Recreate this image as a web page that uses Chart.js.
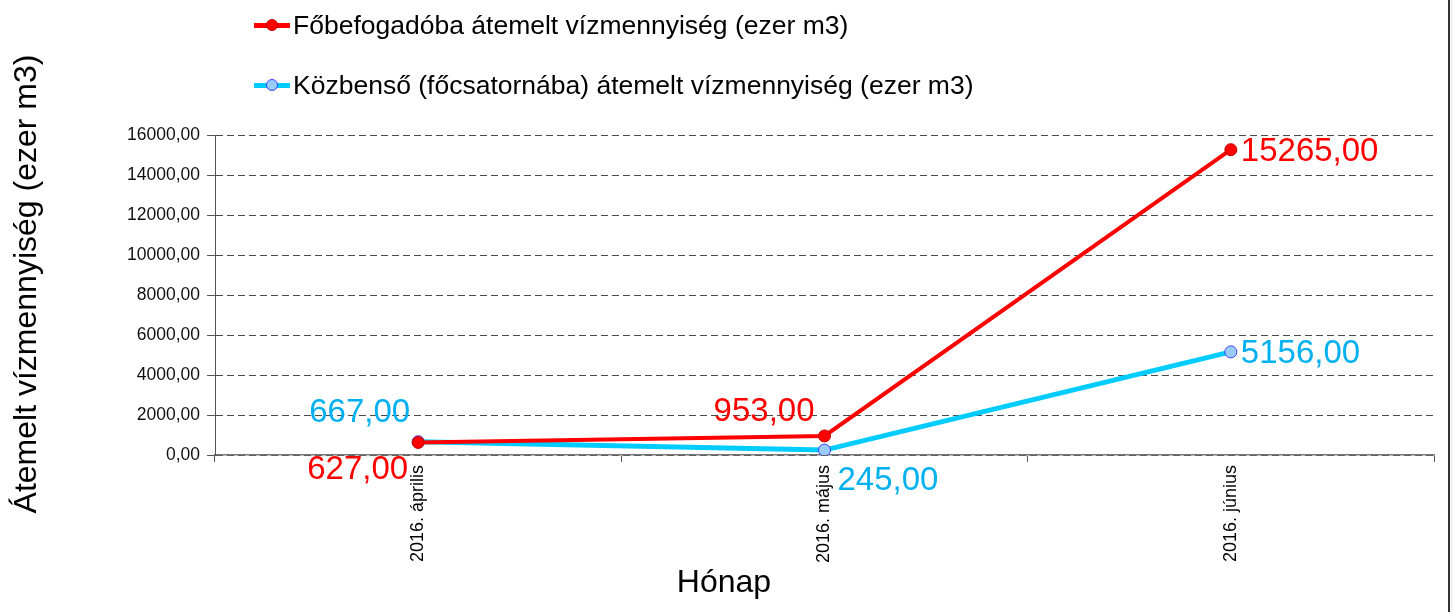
<!DOCTYPE html>
<html>
<head>
<meta charset="utf-8">
<script src="https://cdn.jsdelivr.net/npm/chart.js@4"></script>
<style>
  html, body { margin: 0; padding: 0; background: #f4f4f4; }
  #wrap { position: relative; width: 1448px; height: 612px; background: #fff; border-right: 2px solid #333; }
  #legend { position: absolute; left: 254px; top: 8px; font-family: "Liberation Sans", Arial, sans-serif; font-size: 26.5px; color: #000; }
  .item { height: 34px; line-height: 34px; display: flex; align-items: center; margin-bottom: 26px; }
  .sym { position: relative; width: 36px; height: 34px; margin-right: 3px; }
  .sym .ln { position: absolute; left: 0; right: 0; top: 15px; height: 5px; }
  .sym .dot { position: absolute; left: 12px; top: 11px; width: 10px; height: 10px; border-radius: 50%; }
</style>
</head>
<body>
<div id="wrap">
  <canvas id="chart-grafico-1" width="1448" height="612"></canvas>
  <div id="legend"></div>
</div>
<script>
const honapok = ['2016. április', '2016. május', '2016. június'];
const fobefogadoba = [627, 953, 15265];
const kozbenso = [667, 245, 5156];
const nevek = ['Főbefogadóba átemelt vízmennyiség (ezer m3)', 'Közbenső (főcsatornába) átemelt vízmennyiség (ezer m3)'];
const yTicks = [0, 2000, 4000, 6000, 8000, 10000, 12000, 14000, 16000];
const yCim = 'Átemelt vízmennyiség (ezer m3)';
const xCim = 'Hónap';

const betu = '"Liberation Sans", Arial, sans-serif';
const szam = (v) => v.toFixed(2).replace('.', ',');

// ertek cimkek a pontok mellett
const ertekCimkek = {
  id: 'ertekCimkek',
  afterDatasetsDraw(chart, args, opts) {
    const ctx = chart.ctx;
    ctx.save();
    ctx.font = '33px ' + betu;
    ctx.textBaseline = 'middle';
    chart.data.datasets.forEach((ds, i) => {
      const meta = chart.getDatasetMeta(i);
      meta.data.forEach((pt, j) => {
        const [align, dx, dy] = opts.hely[i][j];
        ctx.fillStyle = opts.szinek[i];
        ctx.textAlign = align;
        ctx.fillText(szam(ds.data[j]), pt.x + dx, pt.y + dy);
      });
    });
    ctx.restore();
  }
};

// fuggoleges tengely cime (kicsit a terulet kozepe felett)
const yTengelyCim = {
  id: 'yTengelyCim',
  afterDraw(chart, args, opts) {
    const ctx = chart.ctx;
    ctx.save();
    ctx.translate(opts.x, opts.y);
    ctx.rotate(-Math.PI / 2);
    ctx.font = '32px ' + betu;
    ctx.fillStyle = '#000';
    ctx.textAlign = 'center';
    ctx.textBaseline = 'middle';
    ctx.fillText(opts.text, 0, 0);
    ctx.restore();
  }
};

const ctx = document.getElementById('chart-grafico-1');
new Chart(ctx, {
  type: 'line',
  data: {
    labels: honapok,
    datasets: [
      {
        label: nevek[0],
        data: fobefogadoba,
        borderColor: '#ff0000',
        borderWidth: 4,
        pointRadius: 6,
        pointBackgroundColor: '#ff0000',
        pointBorderColor: '#c00000',
        pointBorderWidth: 1,
        tension: 0
      },
      {
        label: nevek[1],
        data: kozbenso,
        borderColor: '#00ccff',
        borderWidth: 5,
        pointRadius: 6,
        pointBackgroundColor: '#99ccff',
        pointBorderColor: '#4040ff',
        pointBorderWidth: 1,
        tension: 0
      }
    ]
  },
  options: {
    responsive: false,
    animation: false,
    layout: { padding: { top: 135, left: 14, right: 14, bottom: 10 } },
    plugins: {
      legend: { display: false },
      tooltip: { enabled: false },
      title: {
        display: true, text: xCim, position: 'bottom', color: '#000',
        padding: 0, font: { family: betu, size: 32, weight: 'normal' }
      },
      yTengelyCim: { text: yCim, x: 27, y: 284 },
      ertekCimkek: {
        szinek: ['#ff0000', '#00b0f0'],
        hely: [
          [['right', -10, 27], ['right', -10, -24], ['left', 10, 2]],
          [['right', -8, -29], ['left', 13, 31], ['left', 10, 2]]
        ]
      }
    },
    scales: {
      x: {
        offset: true,
        afterFit: (s) => { s.height = 108.6; },
        grid: { drawOnChartArea: false, offset: true, tickLength: 7, color: '#555', tickWidth: 1 },
        border: { color: '#777', width: 1.5 },
        ticks: {
          minRotation: 90, maxRotation: 90, padding: 3, color: '#000',
          font: { family: betu, size: 18 }
        }
      },
      y: {
        min: 0, max: 16000,
        afterFit: (s) => { s.width = 201; },
        afterBuildTicks: (s) => { s.ticks = yTicks.map(v => ({ value: v })); },
        grid: { color: '#4a4a4a', tickBorderDash: [], tickLength: 8, tickColor: '#555' },
        border: { color: '#555', width: 1, dash: [7, 4] },
        ticks: {
          padding: 7, color: '#111',
          font: { family: betu, size: 17.5 },
          callback: (v) => szam(v)
        }
      }
    }
  },
  plugins: [ertekCimkek, yTengelyCim]
});

// jelmagyarazat
const leg = document.getElementById('legend');
const jelek = [
  { vonal: '#ff0000', pont: '#ff0000', keret: '#c00000' },
  { vonal: '#00ccff', pont: '#99ccff', keret: '#4040ff' }
];
nevek.forEach((n, i) => {
  const d = document.createElement('div');
  d.className = 'item';
  d.innerHTML = `<span class="sym"><span class="ln" style="background:${jelek[i].vonal}"></span>` +
    `<span class="dot" style="background:${jelek[i].pont};border:1px solid ${jelek[i].keret}"></span></span>` +
    `<span>${n}</span>`;
  leg.appendChild(d);
});
</script>
</body>
</html>
